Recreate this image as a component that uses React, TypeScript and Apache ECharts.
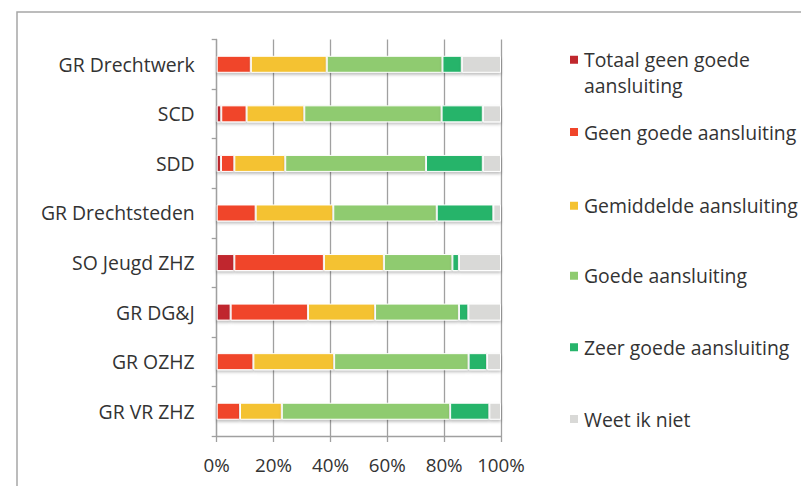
import React, { useEffect, useRef } from "react";
import * as echarts from "echarts";

const categories = [
  "GR Drechtwerk",
  "SCD",
  "SDD",
  "GR Drechtsteden",
  "SO Jeugd ZHZ",
  "GR DG&J",
  "GR OZHZ",
  "GR VR ZHZ",
];

const seriesNames = [
  "Totaal geen goede aansluiting",
  "Geen goede aansluiting",
  "Gemiddelde aansluiting",
  "Goede aansluiting",
  "Zeer goede aansluiting",
  "Weet ik niet",
];

const totaalGeenGoede = [0, 1.6, 1.5, 0, 6.2, 4.9, 0, 0];
const geenGoede = [12.0, 8.9, 4.7, 13.7, 31.5, 27.2, 12.9, 8.2];
const gemiddelde = [26.7, 20.3, 17.9, 27.3, 21.1, 23.6, 28.4, 14.7];
const goede = [40.7, 48.3, 49.5, 36.4, 24.1, 29.5, 47.3, 59.2];
const zeerGoede = [6.8, 14.5, 20.0, 19.9, 2.3, 3.3, 6.5, 13.8];
const weetNiet = [13.8, 6.4, 6.4, 2.7, 14.8, 11.5, 4.9, 4.1];

const xTicks = [0, 20, 40, 60, 80, 100];

const colors = ["#c0272d", "#f0452a", "#f4c230", "#8fcb70", "#27b46b", "#d9d9d7"];

const font = "'Open Sans', 'Liberation Sans', sans-serif";

export default function App() {
  const ref = useRef<HTMLDivElement>(null);
  useEffect(() => {
    document.body.style.margin = "0";
    const chart = echarts.init(ref.current!, null, { renderer: "svg" });
    const values = [totaalGeenGoede, geenGoede, gemiddelde, goede, zeerGoede, weetNiet];
    const legendCenters = [60.7, 133, 206.7, 276.7, 348.3, 420];
    const legends = seriesNames.map((name, i) => ({
      show: true,
      data: [name],
      orient: "vertical",
      left: 568,
      top: i === 0 ? legendCenters[0] - 40 : legendCenters[i] - 14,
      padding: 0,
      itemWidth: 10,
      itemHeight: 10,
      icon: "rect",
      selectedMode: false,
      formatter: i === 0 ? () => " \nTotaal geen goede\naansluiting" : undefined,
      textStyle: {
        fontFamily: font,
        fontSize: 19.4,
        color: "#333",
        lineHeight: 26,
      },
    }));
    chart.setOption({
      animation: false,
      color: colors,
      legend: legends,
      grid: { left: 216.7, right: 300, top: 39.5, bottom: 50, containLabel: false },
      xAxis: {
        type: "value",
        min: xTicks[0],
        max: xTicks[xTicks.length - 1],
        interval: 20,
        axisLine: { show: true, lineStyle: { color: "#a0a0a0", width: 1.3 } },
        axisTick: { show: true, length: 6, lineStyle: { color: "#a0a0a0", width: 1.3 } },
        splitLine: { show: true, lineStyle: { color: "#a0a0a0", width: 1.3 } },
        axisLabel: {
          formatter: "{value}%",
          fontFamily: font,
          fontSize: 18.8,
          color: "#333",
          margin: 19,
        },
      },
      yAxis: {
        type: "category",
        data: categories,
        inverse: true,
        axisLine: { show: true, lineStyle: { color: "#a0a0a0", width: 1.3 } },
        axisTick: { show: true, length: 5, lineStyle: { color: "#a0a0a0", width: 1.3 } },
        axisLabel: {
          fontFamily: font,
          fontSize: 19.4,
          color: "#333",
          margin: 22,
        },
      },
      graphic: [
        {
          type: "rect",
          shape: { x: 17, y: 12, width: 1000, height: 700 },
          style: { fill: "none", stroke: "#a6a6a6", lineWidth: 1.5 },
          silent: true,
        },
      ],
      series: seriesNames.map((name, i) => ({
        name,
        type: "bar",
        stack: "total",
        barWidth: 17,
        data: values[i],
        itemStyle: {
          color: colors[i],
          borderColor: "#ffffff",
          borderWidth: 1,
          shadowColor: "rgba(0,0,0,0.25)",
          shadowBlur: 3,
          shadowOffsetY: 2,
        },
      })),
    });
    return () => chart.dispose();
  }, []);
  return (
    <div
      ref={ref}
      style={{ position: "absolute", left: 0, top: 0, width: 801, height: 486, background: "#fff" }}
    />
  );
}
